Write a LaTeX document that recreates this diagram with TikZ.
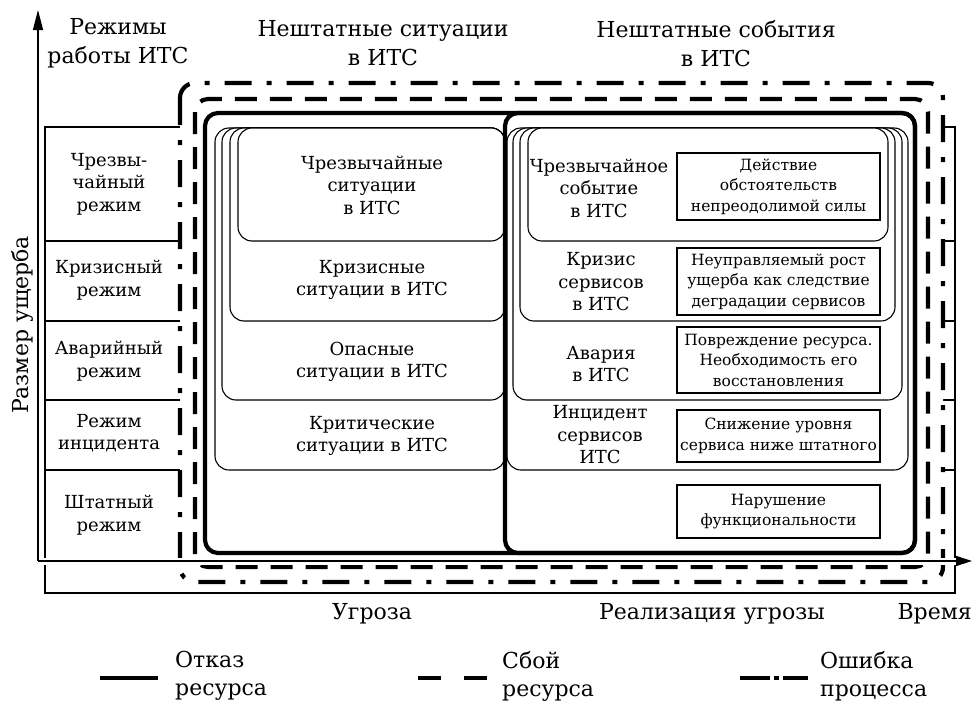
\documentclass[tikz,border=0pt]{standalone}
\usepackage{fontspec}
\setmainfont{DejaVu Serif}
\usetikzlibrary{arrows.meta}
\begin{document}
\begin{tikzpicture}[x=1pt,y=-1pt,
  frameln/.style={line width=1.3pt},
  thinbox/.style={draw, line width=1.1pt, rounded corners=14pt, fill=white},
  thickln/.style={line width=4.2pt, rounded corners=13pt},
  dashln/.style={line width=4.2pt, dash pattern=on 22pt off 13pt},
  dashdotln/.style={line width=4.2pt, dash pattern=on 27pt off 15pt on 5pt off 15pt},
  rbox/.style={draw, line width=1.5pt, minimum width=203pt, align=center, inner sep=0pt,
    font=\fontsize{15.5}{20.5}\selectfont},
  lbl/.style={align=center, inner sep=0pt, font=\fontsize{18}{22.5}\selectfont},
  hdr/.style={align=center, inner sep=0pt, font=\fontsize{22}{29}\selectfont},
  leg/.style={align=left, anchor=west, inner sep=0pt, font=\fontsize{22}{28}\selectfont},
  axisln/.style={line width=1.3pt},
  halo/.style={line width=7pt, white}
]
\useasboundingbox (0,0) rectangle (972,704);

% outer frame with row lines
\draw[frameln] (45,127) rectangle (955,593);
\foreach \yy in {241,321,400,470} \draw[frameln] (45,\yy) -- (955,\yy);

% dash-dot, dashed and thick outlines
\draw[dashdotln, fill=white, rounded corners=15pt] (180,83) rectangle (943,582);
\draw[dashln, rounded corners=13pt] (195,99) rectangle (928,567);
\draw[thickln] (205,113) rectangle (915,553);

% left nested boxes
\draw[thinbox] (215,128) rectangle (505,470);
\draw[thinbox] (222,128) rectangle (505,400);
\draw[thinbox] (230,128) rectangle (505,321);
\draw[thinbox] (238,128) rectangle (505,241);

% right nested boxes
\draw[thinbox] (507,128) rectangle (908,470);
\draw[thinbox] (513,128) rectangle (902,400);
\draw[thinbox] (520,128) rectangle (895,321);
\draw[thinbox] (528,128) rectangle (888,241);
\draw[thickln] (505,113) rectangle (915,553);

% right rectangles
\node[rbox, minimum height=67pt] (r1) at (778.5,186.5) {Действие\\обстоятельств\\непреодолимой силы};
\node[rbox, minimum height=67pt] (r2) at (778.5,281.5) {Неуправляемый рост\\ущерба как следствие\\деградации сервисов};
\node[rbox, minimum height=66pt] (r3) at (778.5,360) {Повреждение ресурса.\\Необходимость его\\восстановления};
\node[rbox, minimum height=52pt] (r4) at (778.5,436) {Снижение уровня\\сервиса ниже штатного};
\node[rbox, minimum height=53pt] (r5) at (778.5,511.5) {Нарушение\\функциональности};

% right stack labels
\node[lbl] (e1) at (599,188) {Чрезвычайное\\событие\\в ИТС};
\node[lbl] (e2) at (601,282) {Кризис\\сервисов\\в ИТС};
\node[lbl] (e3) at (601,364) {Авария\\в ИТС};
\node[lbl] (e4) at (600,435) {Инцидент\\сервисов\\ИТС};

% left stack labels
\node[lbl] (s1) at (372,185) {Чрезвычайные\\ситуации\\в ИТС};
\node[lbl] (s2) at (372,280) {Кризисные\\ситуации в ИТС};
\node[lbl] (s3) at (372,362) {Опасные\\ситуации в ИТС};
\node[lbl] (s4) at (372,436) {Критические\\ситуации в ИТС};

% left column labels
\node[lbl] (c1) at (109,184) {Чрезвы-\\чайный\\режим};
\node[lbl] (c2) at (109,280) {Кризисный\\режим};
\node[lbl] (c3) at (109,361) {Аварийный\\режим};
\node[lbl] (c4) at (109,433) {Режим\\инцидента};
\node[lbl] (c5) at (109,515) {Штатный\\режим};

% headers
\node[hdr] (h1) at (118,43) {Режимы\\работы ИТС};
\node[hdr] (h2) at (383,43) {Нештатные ситуации\\в ИТС};
\node[hdr] (h3) at (716,44) {Нештатные события\\в ИТС};

% axes
\coordinate (O) at (38,561);
\coordinate (Ytop) at (38,10);
\coordinate (Xend) at (972,561);
\draw[halo] ([xshift=3pt]O) -- ([xshift=-14pt]Xend);
\draw[halo] ([yshift=-3pt]O) -- ([yshift=14pt]Ytop);
\draw[axisln, -{Triangle[length=20pt,width=10pt]}] (O) -- (Ytop);
\draw[axisln, -{Triangle[length=16pt,width=10pt]}] (O) -- (Xend);

\node[hdr, rotate=90] (ya) at (22,325) {Размер ущерба};
\node[hdr] (x1) at (372,614) {Угроза};
\node[hdr] (x2) at (712,614) {Реализация угрозы};
\node[hdr, anchor=east] (x3) at (972,614) {Время};

% legend
\coordinate (l1a) at (100,678); \coordinate (l1b) at (158,678);
\coordinate (l2a) at (418,678); \coordinate (l2b) at (487,678);
\coordinate (l3a) at (740,678); \coordinate (l3b) at (808,678);
\draw[line width=4.5pt] (l1a) -- (l1b);
\draw[line width=4.5pt, dash pattern=on 23pt off 23pt] (l2a) -- (l2b);
\draw[line width=4.5pt, dash pattern=on 30pt off 4pt on 5pt off 4pt on 30pt] (l3a) -- (l3b);
\node[leg] (t1) at (175,676) {Отказ\\ресурса};
\node[leg] (t2) at (502,676) {Сбой\\ресурса};
\node[leg] (t3) at (820,676) {Ошибка\\процесса};
\end{tikzpicture}
\end{document}
